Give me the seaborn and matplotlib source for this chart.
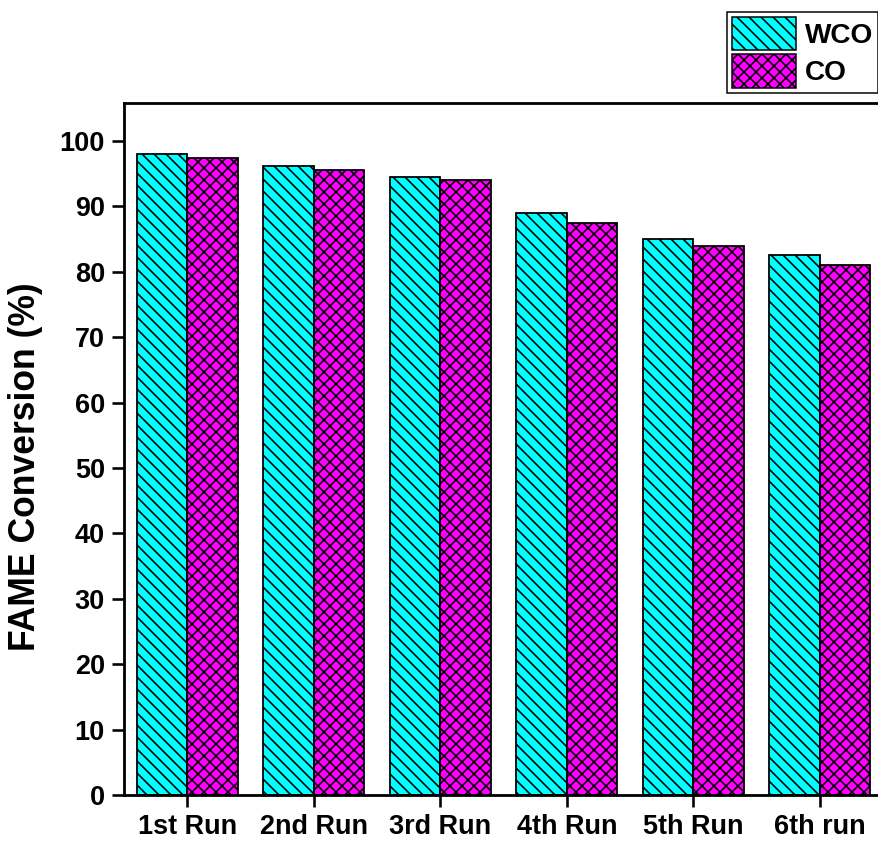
import matplotlib
matplotlib.use("Agg")
import matplotlib.pyplot as plt
from matplotlib.patches import Patch
import seaborn as sns
import pandas as pd

runs = ["1st Run", "2nd Run", "3rd Run", "4th Run", "5th Run", "6th run"]
wco = [98.0, 96.1, 94.5, 89.0, 85.0, 82.6]
co = [97.4, 95.6, 94.0, 87.5, 84.0, 81.1]
series = ["WCO", "CO"]
colors = {"WCO": "#00FFFF", "CO": "#FF00FF"}
hatches = {"WCO": "\\\\", "CO": "xx"}
yticks = list(range(0, 101, 10))

DPI = 72
W, H = 878, 841


def pt(px):
    """Convert a size in output pixels to points."""
    return px * 72 / DPI


df = pd.DataFrame({
    "run": runs * 2,
    "oil": ["WCO"] * len(runs) + ["CO"] * len(runs),
    "conv": wco + co,
})

sns.set_style("ticks")
plt.rcParams["font.family"] = ["Liberation Sans", "DejaVu Sans"]
plt.rcParams["font.weight"] = "bold"
plt.rcParams["text.color"] = "black"
plt.rcParams["axes.labelcolor"] = "black"
plt.rcParams["xtick.color"] = "black"
plt.rcParams["ytick.color"] = "black"
plt.rcParams["axes.edgecolor"] = "black"
plt.rcParams["hatch.linewidth"] = pt(1.6)

fig = plt.figure(figsize=(W / DPI, H / DPI), dpi=DPI)
ax = fig.add_axes([124 / W, 46 / H, 1 - 124 / W, (795 - 103) / H])

sns.barplot(data=df, x="run", y="conv", hue="oil", order=runs, hue_order=series,
            palette=colors, width=0.8, edgecolor="black", linewidth=pt(1.8),
            saturation=1, ax=ax, legend=False)

for cont, name in zip(ax.containers, series):
    for bar in cont:
        bar.set_hatch(hatches[name])

ax.set_ylim(0, 105.8)
ax.set_xlim(-0.5, 5.46)
ax.set_yticks(yticks)
ax.set_xlabel("")
ax.set_ylabel("FAME Conversion (%)", fontsize=pt(35.5), fontweight="bold")
ax.yaxis.set_label_coords((43 - 124) / (W - 124), (795 - 467) / 692)
ax.tick_params(axis="both", direction="out", length=pt(12), width=pt(2.6),
               labelsize=pt(27), pad=pt(7), colors="black")
for lab in ax.get_xticklabels() + ax.get_yticklabels():
    lab.set_fontweight("bold")
for side in ["left", "bottom", "top"]:
    ax.spines[side].set_linewidth(pt(2.8))
    ax.spines[side].set_color("black")
    ax.spines[side].set_visible(True)
ax.spines["right"].set_visible(False)

handles = [Patch(facecolor=colors[s], edgecolor="black", hatch=hatches[s], linewidth=pt(1.5), label=s)
           for s in series]
leg = fig.legend(handles=handles, loc="upper left", bbox_to_anchor=(727 / W, 1 - 12 / H),
                 borderaxespad=0, handlelength=2.3, handleheight=1.45,
                 handletextpad=0.3, borderpad=0.18, labelspacing=0.15, fancybox=False,
                 framealpha=1, edgecolor="black", prop={"weight": "bold", "size": pt(28)})
leg.get_frame().set_linewidth(pt(1.5))

fig.savefig("out.png", dpi=DPI)
